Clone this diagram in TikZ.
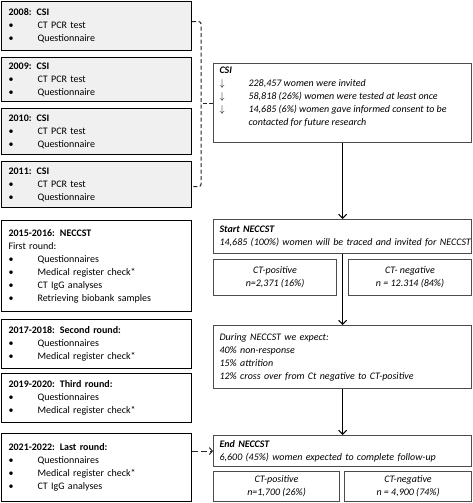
\documentclass[tikz,border=0pt]{standalone}
\usepackage{fontspec}
\setmainfont{Carlito}
\usetikzlibrary{arrows.meta}
\newcommand{\bul}{\makebox[29pt][l]{•}}
\newcommand{\dar}{\makebox[29pt][l]{$\downarrow$}}
\begin{document}
\begin{tikzpicture}[x=1pt,y=-1pt,
  lbox/.style={draw=black, line width=1.1pt, anchor=north west, inner sep=0pt,
    minimum width=190pt, text width=176pt, align=left,
    font=\fontsize{10}{13}\selectfont},
  gbox/.style={lbox, fill=black!6},
  rbox/.style={draw=black!70, line width=1.1pt, anchor=north west, inner sep=0pt,
    font=\fontsize{10}{13}\selectfont\itshape},
  wbox/.style={rbox, minimum width=258pt, text width=246pt, align=left},
  cbox/.style={rbox, align=center},
  arr/.style={draw=black, line width=1.1pt, -{Straight Barb[length=4pt,width=8pt,line width=1.1pt]}},
  brk/.style={draw=black!85, line width=1pt, dash pattern=on 4pt off 2.5pt, rounded corners=2.5pt},
  darr/.style={draw=black!85, line width=1pt, dash pattern=on 6pt off 3pt, -{Straight Barb[length=3pt,width=7pt,line width=1pt]}}
]
\useasboundingbox (0,0) rectangle (473,503);

% left column
\node[gbox, minimum height=49pt] (b2008) at (1,1)
  {\textbf{2008:\enspace CSI}\\ \bul CT PCR test\\ \bul Questionnaire};
\node[gbox, minimum height=44pt] (b2009) at (1,57)
  {\textbf{2009:\enspace CSI}\\ \bul CT PCR test\\ \bul Questionnaire};
\node[gbox, minimum height=46pt] (b2010) at (1,108)
  {\textbf{2010:\enspace CSI}\\ \bul CT PCR test\\ \bul Questionnaire};
\node[gbox, minimum height=46pt] (b2011) at (1,161)
  {\textbf{2011:\enspace CSI}\\ \bul CT PCR test\\ \bul Questionnaire};
\node[lbox, minimum height=91pt] (b2015) at (1,220)
  {\textbf{2015-2016:\enspace NECCST}\\ First round:\\ \bul Questionnaires\\ \bul Medical register check*\\ \bul CT IgG analyses\\ \bul Retrieving biobank samples};
\node[lbox, minimum height=49pt] (b2017) at (1,319)
  {\textbf{2017-2018:\enspace Second round:}\\ \bul Questionnaires\\ \bul Medical register check*};
\node[lbox, minimum height=49pt] (b2019) at (1,373)
  {\textbf{2019-2020:\enspace Third round:}\\ \bul Questionnaires\\ \bul Medical register check*};
\node[lbox, minimum height=68pt] (b2021) at (1,433)
  {\textbf{2021-2022:\enspace Last round:}\\ \bul Questionnaires\\ \bul Medical register check*\\ \bul CT IgG analyses};

% right column
\node[rbox, inner xsep=6pt] (csi) at (213,63)
  {\parbox[c][79pt][t]{246pt}{\vspace*{3pt}\textbf{CSI}\\
   \dar 228,457 women were invited\\
   \dar 58,818 (26\%) women were tested at least once\\
   \dar 14,685 (6\%) women gave informed consent to be\\
   \makebox[29pt][l]{}contacted for future research}};
\node[wbox, minimum height=34pt] (start) at (213,219)
  {\textbf{Start NECCST}\\ \makebox[246pt][l]{14,685 (100\%) women will be traced and invited for NECCST}};
\node[cbox, minimum width=123pt, minimum height=36pt] (pos1) at (213,259)
  {CT-positive\\ n=2,371 (16\%)};
\node[cbox, minimum width=123pt, minimum height=36pt] (neg1) at (348,259)
  {CT- negative\\ n = 12.314 (84\%)};
\node[wbox, minimum height=63pt] (during) at (213,325)
  {During NECCST we expect:\\ 40\% non-response\\ 15\% attrition\\ 12\% cross over from Ct negative to CT-positive};
\node[wbox, minimum height=31pt] (end) at (213,435)
  {\textbf{End NECCST}\\ 6,600 (45\%) women expected to complete follow-up};
\node[cbox, minimum width=126pt, minimum height=30pt] (pos2) at (213,471)
  {CT-positive\\ n=1,700 (26\%)};
\node[cbox, minimum width=127pt, minimum height=30pt] (neg2) at (344,471)
  {CT-negative\\ n = 4,900 (74\%)};

% connectors
\draw[arr] (csi.south) -- (start.north);
\draw[arr] (start.south) -- (during.north);
\draw[arr] (during.south) -- (end.north);
\draw[brk] ([yshift=4.5pt]b2008.east) -- ++(9pt,0) |- ([yshift=-2pt]b2011.east);
\draw[brk] (csi.west) -- ++(-13pt,0);
\draw[darr] (b2021.east |- end.west) -- (end.west);
\end{tikzpicture}
\end{document}
